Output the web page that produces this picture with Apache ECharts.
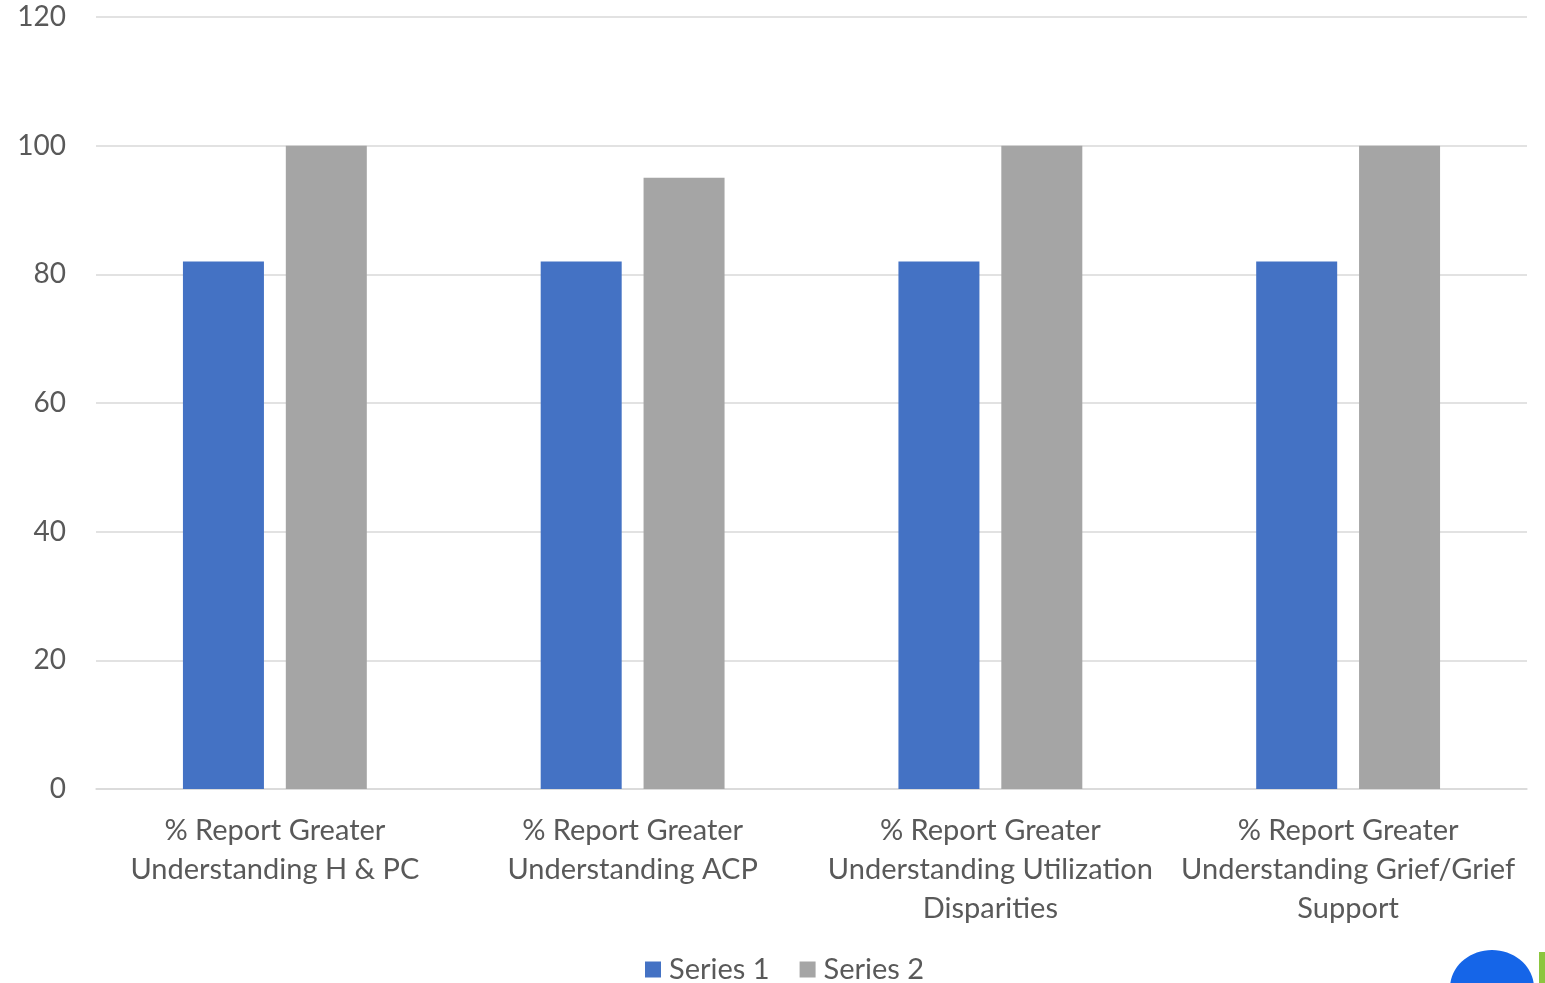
<!DOCTYPE html>
<html>
<head>
<meta charset="utf-8">
<script src="https://cdn.jsdelivr.net/npm/echarts@6/dist/echarts.min.js"></script>
<style>
html,body{margin:0;padding:0;background:#fff;}
#chart{width:1545px;height:983px;}
</style>
</head>
<body>
<div id="chart"></div>
<script>
const categories = [
  "% Report Greater\nUnderstanding H & PC",
  "% Report Greater\nUnderstanding ACP",
  "% Report Greater\nUnderstanding Utilization\nDisparities",
  "% Report Greater\nUnderstanding Grief/Grief\nSupport"
];
const series1 = [82, 82, 82, 82];
const series2 = [100, 95, 100, 100];
const seriesNames = ["Series 1", "Series 2"];

const FONT = "Lato";
const chart = echarts.init(document.getElementById('chart'));
chart.setOption({
  animation: false,
  backgroundColor: '#ffffff',
  grid: { left: 96, right: 18, top: 17, bottom: 194, containLabel: false },
  legend: {
    bottom: -6,
    left: 640,
    itemWidth: 16, itemHeight: 16, itemGap: 30,
    icon: 'rect',
    textStyle: { fontFamily: FONT, fontSize: 29, color: '#595959', padding: [0, 0, 0, 3] },
    data: seriesNames
  },
  xAxis: {
    type: 'category',
    data: categories,
    axisLine: { lineStyle: { color: '#d9d9d9', width: 1.5 } },
    axisTick: { show: false },
    axisLabel: { fontFamily: FONT, fontSize: 29, color: '#595959', lineHeight: 39, margin: 22, interval: 0 }
  },
  yAxis: {
    type: 'value',
    min: 0, max: 120, interval: 20,
    axisLine: { show: false },
    axisTick: { show: false },
    splitLine: { lineStyle: { color: '#d9d9d9', width: 1.5 } },
    axisLabel: { fontFamily: FONT, fontSize: 28, color: '#595959', margin: 30 }
  },
  series: [
    { name: seriesNames[0], type: 'bar', data: series1, barWidth: 81, barGap: '27%', itemStyle: { color: '#4472c4' } },
    { name: seriesNames[1], type: 'bar', data: series2, barWidth: 81, itemStyle: { color: '#a5a5a5' } }
  ],
  graphic: [
    { type: 'ellipse', shape: { cx: 1492, cy: 988, rx: 42, ry: 38 }, style: { fill: '#1565e8' }, silent: true },
    { type: 'rect', shape: { x: 1539, y: 952, width: 10, height: 35 }, style: { fill: '#8cc63f' }, silent: true }
  ]
});
</script>
</body>
</html>
